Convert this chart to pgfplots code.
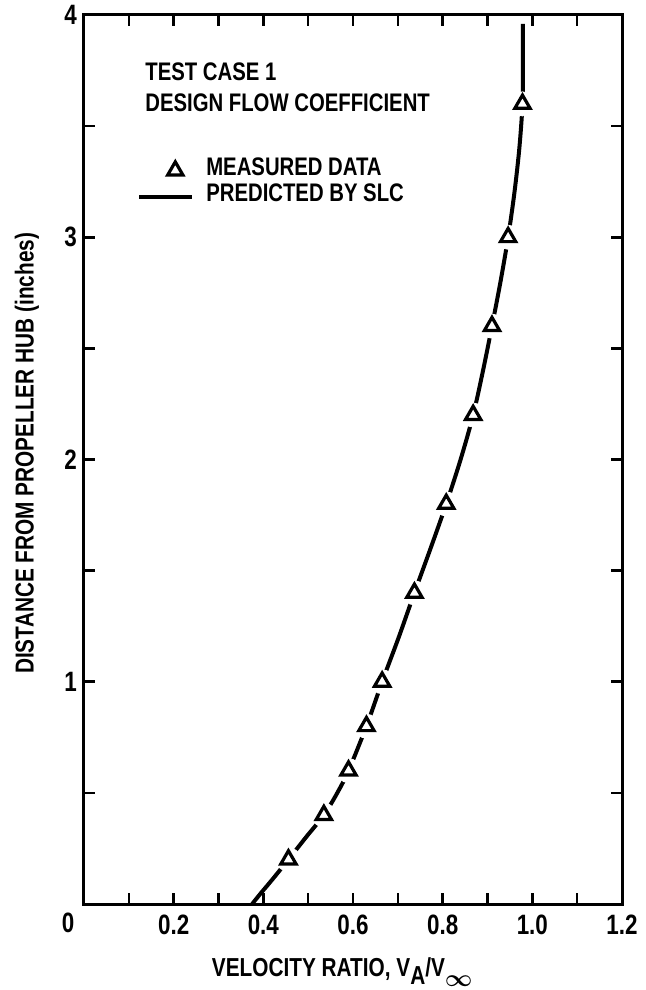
\documentclass[border=0pt]{standalone}
\usepackage{pgfplots}
\pgfplotsset{compat=1.18}
\usepackage{fontspec}
\setmainfont{Liberation Sans}[FakeStretch=0.8]
\pgfplotsset{
  lineleg/.style={legend image code/.code={\draw[##1] (0pt,0pt) -- (26.5pt,0pt);}},
  markleg/.style={legend image code/.code={\draw[##1] plot coordinates {(18pt,0pt)};}},
}
\begin{document}
\begin{tikzpicture}
\path[use as bounding box] (-42pt,-43pt) rectangle (281pt,452pt);
\begin{axis}[
  scale only axis, width=269pt, height=444.5pt,
  xmin=0, xmax=1.2, ymin=0, ymax=4,
  clip mode=individual,
  xtick={0,0.1,0.2,0.3,0.4,0.5,0.6,0.7,0.8,0.9,1.0,1.1,1.2},
  xticklabels={,,0.2,,0.4,,0.6,,0.8,,1.0,,1.2},
  ytick={0,0.5,1,1.5,2,2.5,3,3.5,4},
  yticklabels={,,1,,2,,3,,4},
  axis line style={line width=1.5pt},
  tick style={line width=1.3pt, black},
  major tick length=5.5pt, tick align=inside,
  ticklabel style={font=\fontsize{14}{14}\selectfont\bfseries},
  xticklabel style={yshift=-2pt},
  /pgf/number format/assume math mode=true,
  xlabel={VELOCITY RATIO, V\raisebox{-0.6ex}{A}/V\raisebox{-0.7ex}{\boldmath$\infty$}},
  ylabel={DISTANCE FROM PROPELLER HUB (inches)},
  label style={font=\fontsize{13}{13}\selectfont\bfseries},
  xlabel style={at={(axis description cs:0.48,0)}, anchor=center, yshift=-34pt},
  ylabel style={at={(axis description cs:-0.106,0.507)}, anchor=center},
  legend style={draw=none, fill=none, at={(axis cs:0.118,3.36)}, anchor=north west,
    inner sep=0pt, font=\fontsize{12.7}{12.7}\selectfont\bfseries,
    nodes={inner sep=0pt, text height=9pt, text depth=4pt}, row sep=0pt, column sep=6pt},
  legend cell align=left,
  reverse legend,
]
\addplot[black, line width=2pt, smooth, lineleg]
  coordinates {
  (0.375,0) (0.395,0.05) (0.42,0.11) (0.456,0.2) (0.495,0.3) (0.535,0.4)
  (0.565,0.5) (0.59,0.6) (0.63,0.8) (0.665,1.0) (0.702,1.2) (0.737,1.4)
  (0.773,1.6) (0.808,1.8) (0.84,2.0) (0.868,2.2) (0.89,2.4) (0.91,2.6)
  (0.929,2.8) (0.946,3.0) (0.96,3.2) (0.971,3.4) (0.978,3.6) (0.979,3.8) (0.979,3.96)
  };
\addlegendentry{PREDICTED BY SLC}
\addplot[only marks, mark=*, mark size=6pt, mark options={draw=white, fill=white}, forget plot]
  coordinates {(0.456,0.2) (0.535,0.4) (0.59,0.6) (0.63,0.8) (0.665,1.0) (0.737,1.4)
  (0.808,1.8) (0.868,2.2) (0.91,2.6) (0.946,3.0) (0.978,3.6)};
\addplot[only marks, mark=triangle*, mark size=4.4pt,
  mark options={draw=black, fill=white, line width=1.6pt}, markleg]
  coordinates {(0.456,0.2) (0.535,0.4) (0.59,0.6) (0.63,0.8) (0.665,1.0) (0.737,1.4)
  (0.808,1.8) (0.868,2.2) (0.91,2.6) (0.946,3.0) (0.978,3.6)};
\addlegendentry{MEASURED DATA}
\node[anchor=west, inner sep=0pt, font=\fontsize{12.7}{12.7}\selectfont\bfseries] at (axis cs:0.136,3.743) {TEST CASE 1};
\node[anchor=west, inner sep=0pt, font=\fontsize{12.7}{12.7}\selectfont\bfseries] at (axis cs:0.136,3.607) {DESIGN FLOW COEFFICIENT};
\node[anchor=center, font=\fontsize{14}{14}\selectfont\bfseries, xshift=-8pt, yshift=-9.5pt] at (axis cs:0,0) {0};
\end{axis}
\end{tikzpicture}
\end{document}
